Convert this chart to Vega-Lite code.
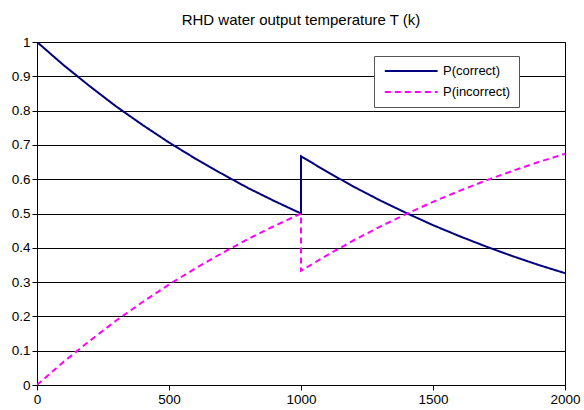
{
  "$schema": "https://vega.github.io/schema/vega-lite/v6.json",
  "width": 528,
  "height": 343,
  "autosize": {"type": "none"},
  "padding": {"left": 37, "top": 42, "right": 19, "bottom": 25},
  "background": "white",
  "title": {
    "text": "RHD water output temperature T (k)",
    "font": "Liberation Sans",
    "fontSize": 15,
    "fontWeight": "normal",
    "color": "black",
    "anchor": "middle",
    "offset": 7
  },
  "config": {
    "view": {"stroke": "black", "strokeWidth": 1},
    "axis": {
      "labelFont": "Liberation Sans",
      "labelFontSize": 13.5,
      "labelColor": "black",
      "domainColor": "black",
      "tickColor": "black",
      "tickSize": 5,
      "labelPadding": 2,
      "title": null
    }
  },
  "data": {
    "values": [
      {"x": 0, "p": 1.0, "series": "P(correct)", "ord": 0},
      {"x": 100, "p": 0.933, "series": "P(correct)", "ord": 1},
      {"x": 200, "p": 0.871, "series": "P(correct)", "ord": 2},
      {"x": 300, "p": 0.812, "series": "P(correct)", "ord": 3},
      {"x": 400, "p": 0.758, "series": "P(correct)", "ord": 4},
      {"x": 500, "p": 0.707, "series": "P(correct)", "ord": 5},
      {"x": 600, "p": 0.66, "series": "P(correct)", "ord": 6},
      {"x": 700, "p": 0.616, "series": "P(correct)", "ord": 7},
      {"x": 800, "p": 0.574, "series": "P(correct)", "ord": 8},
      {"x": 900, "p": 0.536, "series": "P(correct)", "ord": 9},
      {"x": 1000, "p": 0.5, "series": "P(correct)", "ord": 10},
      {"x": 1000, "p": 0.667, "series": "P(correct)", "ord": 11},
      {"x": 1100, "p": 0.621, "series": "P(correct)", "ord": 12},
      {"x": 1200, "p": 0.578, "series": "P(correct)", "ord": 13},
      {"x": 1300, "p": 0.538, "series": "P(correct)", "ord": 14},
      {"x": 1400, "p": 0.501, "series": "P(correct)", "ord": 15},
      {"x": 1500, "p": 0.466, "series": "P(correct)", "ord": 16},
      {"x": 1600, "p": 0.434, "series": "P(correct)", "ord": 17},
      {"x": 1700, "p": 0.404, "series": "P(correct)", "ord": 18},
      {"x": 1800, "p": 0.376, "series": "P(correct)", "ord": 19},
      {"x": 1900, "p": 0.35, "series": "P(correct)", "ord": 20},
      {"x": 2000, "p": 0.326, "series": "P(correct)", "ord": 21},
      {"x": 0, "p": 0.0, "series": "P(incorrect)", "ord": 0},
      {"x": 100, "p": 0.067, "series": "P(incorrect)", "ord": 1},
      {"x": 200, "p": 0.129, "series": "P(incorrect)", "ord": 2},
      {"x": 300, "p": 0.188, "series": "P(incorrect)", "ord": 3},
      {"x": 400, "p": 0.242, "series": "P(incorrect)", "ord": 4},
      {"x": 500, "p": 0.293, "series": "P(incorrect)", "ord": 5},
      {"x": 600, "p": 0.34, "series": "P(incorrect)", "ord": 6},
      {"x": 700, "p": 0.384, "series": "P(incorrect)", "ord": 7},
      {"x": 800, "p": 0.426, "series": "P(incorrect)", "ord": 8},
      {"x": 900, "p": 0.464, "series": "P(incorrect)", "ord": 9},
      {"x": 1000, "p": 0.5, "series": "P(incorrect)", "ord": 10},
      {"x": 1000, "p": 0.333, "series": "P(incorrect)", "ord": 11},
      {"x": 1100, "p": 0.379, "series": "P(incorrect)", "ord": 12},
      {"x": 1200, "p": 0.422, "series": "P(incorrect)", "ord": 13},
      {"x": 1300, "p": 0.462, "series": "P(incorrect)", "ord": 14},
      {"x": 1400, "p": 0.499, "series": "P(incorrect)", "ord": 15},
      {"x": 1500, "p": 0.534, "series": "P(incorrect)", "ord": 16},
      {"x": 1600, "p": 0.566, "series": "P(incorrect)", "ord": 17},
      {"x": 1700, "p": 0.596, "series": "P(incorrect)", "ord": 18},
      {"x": 1800, "p": 0.624, "series": "P(incorrect)", "ord": 19},
      {"x": 1900, "p": 0.65, "series": "P(incorrect)", "ord": 20},
      {"x": 2000, "p": 0.674, "series": "P(incorrect)", "ord": 21}
    ]
  },
  "mark": {"type": "line", "strokeWidth": 2, "clip": true},
  "encoding": {
    "x": {
      "field": "x",
      "type": "quantitative",
      "scale": {"domain": [0, 2000], "nice": false, "zero": false},
      "axis": {"values": [0, 500, 1000, 1500, 2000], "format": "d", "grid": false, "labelFlush": false}
    },
    "y": {
      "field": "p",
      "type": "quantitative",
      "scale": {"domain": [0, 1], "nice": false},
      "axis": {
        "values": [0, 0.1, 0.2, 0.3, 0.4, 0.5, 0.6, 0.7, 0.8, 0.9, 1],
        "format": ".1~f",
        "grid": true,
        "gridColor": "black",
        "gridOpacity": 1,
        "gridWidth": 1,
        "labelFlush": false
      }
    },
    "order": {"field": "ord", "type": "quantitative"},
    "color": {
      "field": "series",
      "type": "nominal",
      "scale": {"domain": ["P(correct)", "P(incorrect)"], "range": ["#000080", "#FF00FF"]},
      "legend": {
        "title": null,
        "orient": "none",
        "legendX": 337,
        "legendY": 14,
        "direction": "vertical",
        "fillColor": "white",
        "strokeColor": "#555555",
        "padding": 8,
        "cornerRadius": 0,
        "labelFont": "Liberation Sans",
        "labelFontSize": 13,
        "labelColor": "black",
        "labelExpr": "datum.label + '\u00a0\u00a0\u00a0\u00a0\u00a0\u00a0\u00a0'",
        "symbolType": "M-0.7,0H8.1",
        "symbolSize": 144,
        "symbolStrokeWidth": 2,
        "rowPadding": 7,
        "labelOffset": 47
      }
    },
    "strokeDash": {
      "field": "series",
      "type": "nominal",
      "scale": {"domain": ["P(correct)", "P(incorrect)"], "range": [[1, 0], [6, 4]]},
      "legend": null
    }
  }
}
